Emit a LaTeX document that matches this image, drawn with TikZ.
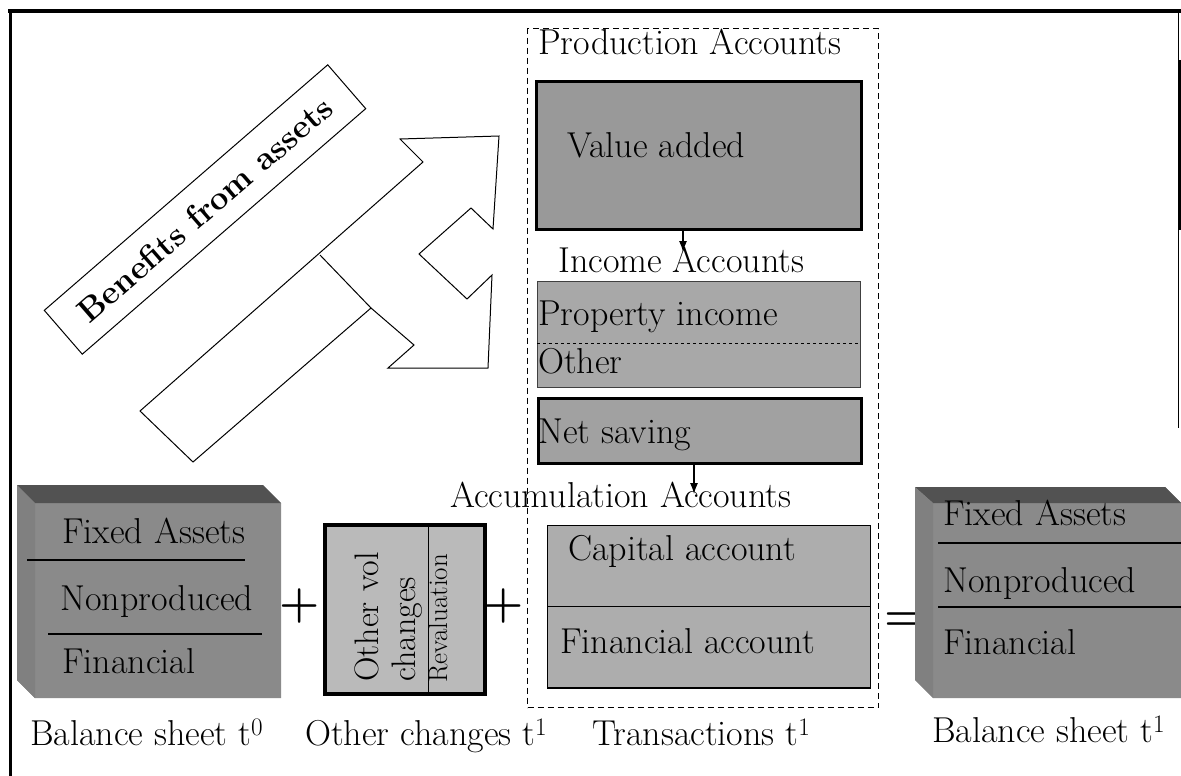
\documentclass[tikz,border=0pt]{standalone}
\usetikzlibrary{arrows.meta}
\begin{document}
\begin{tikzpicture}[x=1pt,y=-1pt,
  lbl/.style={anchor=base west, inner sep=0pt, font=\fontsize{36}{40}\selectfont},
  acbox/.style={draw=black, line width=3pt, inner sep=0pt, anchor=north west},
  thinbox/.style={draw=black, line width=1pt, inner sep=0pt, anchor=north west},
  flow/.style={-{Latex[length=11pt,width=8pt]}, line width=1.2pt},
  sign/.style={inner sep=0pt, font=\fontsize{46}{50}\selectfont\bfseries},
  divider/.style={line width=2pt},
]
\useasboundingbox (0,0) rectangle (1181,776);
\fill[white] (0,0) rectangle (1181,776);

% frame
\draw[line width=4pt] (8,11) -- (1181,11);
\draw[line width=3pt] (10,9.5) -- (10,776);
\draw[line width=1pt] (1178.5,11) -- (1178.5,428);
\draw[line width=2.5pt] (1179.5,60) -- (1179.5,230);

% banner
\node[draw, line width=1pt, fill=white, rotate=40.9, minimum width=375pt, minimum height=58pt, inner sep=0pt,
      font=\bfseries\fontsize{33}{36}\selectfont] (ben) at (205,209.5) {Benefits from assets};

% branching arrow
\draw[line width=1pt, fill=white] (140,411) -- (193,462) -- (371,308) -- (414,345) -- (388,368) -- (488,368)
  -- (492,275) -- (467,299) -- (419,254) -- (471,208) -- (493,229) -- (499,136) -- (400,139) -- (423,162) -- cycle;
\draw[line width=1pt] (320,255) -- (371,308);

% dashed transactions frame
\node (trans) [draw, dash pattern=on 6pt off 4pt, line width=1.2pt, inner sep=0pt, anchor=north west,
      minimum width=351pt, minimum height=679pt] at (527,28) {};
\node[lbl] (prodlbl) at (538,55) {Production Accounts};

% value added
\node (va) [acbox, fill=black!40, minimum width=325pt, minimum height=148pt] at (535,80) {};
\node[lbl] (valbl) at (567,157) {Value added};
\coordinate (incT) at (683,252);
\draw[flow] (va.south -| incT) -- (incT);
\node[lbl] (inclbl) at (558,272) {Income Accounts};

% income
\node (inc) [draw=black!75, line width=1pt, fill=black!34, inner sep=0pt, anchor=north west,
      minimum width=323pt, minimum height=106pt] at (537,281) {};
\draw[dashed, line width=1pt] (537,343) -- (860,343);
\node[lbl] (proplbl) at (538,325) {Property income};
\node[lbl] (othlbl) at (538,373) {Other};

% net saving
\node (ns) [acbox, fill=black!37, minimum width=323pt, minimum height=65pt] at (537,397) {};
\node[lbl] (nslbl) at (538,443) {Net saving};
\coordinate (accT) at (694,494);
\draw[flow] (ns.south -| accT) -- (accT);
\node[lbl] (acclbl) at (450,507) {Accumulation Accounts};

% capital / financial
\node (cap) [thinbox, fill=black!32, minimum width=323pt, minimum height=163pt] at (547,525) {};
\draw[line width=1pt] (547,606) -- (870,606);
\draw[line width=2.5pt] (547,688) -- (870,688);
\node[lbl] (caplbl) at (568,560) {Capital account};
\node[lbl] (finlbl) at (560,653) {Financial account};

% balance sheet t0
\fill[black!46] (17,485) -- (263,485) -- (281,503) -- (281,698) -- (35,698) -- (17,680) -- cycle;
\fill[black!68] (17,485) -- (263,485) -- (281,503) -- (35,503) -- cycle;
\fill[black!50] (17,485) -- (35,503) -- (35,698) -- (17,680) -- cycle;
\draw[divider] (27,560) -- (245,560);
\draw[divider] (48,634) -- (262,634);
\node[lbl] (fa0) at (62,543) {Fixed Assets};
\node[lbl] (np0) at (60,610) {Nonproduced};
\node[lbl] (fi0) at (62,673) {Financial};

\node[sign] (plus1) at (300,606) {+};

% other changes
\node (oc) [draw, line width=3.5pt, fill=black!27, inner sep=0pt, anchor=north west,
      minimum width=160pt, minimum height=169pt] at (323,523) {};
\draw[line width=1pt] (428,523) -- (428,692);
\node[lbl, rotate=90, font=\fontsize{34}{38}\selectfont] (ov1) at (378,682) {Other vol};
\node[lbl, rotate=90, font=\fontsize{34}{38}\selectfont] (ov2) at (415,682) {changes};
\node[lbl, rotate=90, font=\fontsize{27}{30}\selectfont] (rev) at (447,683) {Revaluation};

\node[sign] (plus2) at (504,606) {+};

\node[sign] (eq) at (905,622) {=};

% balance sheet t1
\fill[black!46] (915,487) -- (1165,487) -- (1181,503) -- (1181,698) -- (933,698) -- (915,680) -- cycle;
\fill[black!68] (915,487) -- (1165,487) -- (1181,503) -- (933,503) -- cycle;
\fill[black!50] (915,487) -- (933,503) -- (933,698) -- (915,680) -- cycle;
\draw[divider] (938,543) -- (1181,543);
\draw[divider] (938,607) -- (1181,607);
\node[lbl] (fa1) at (943,525) {Fixed Assets};
\node[lbl] (np1) at (943,592) {Nonproduced};
\node[lbl] (fi1) at (943,654) {Financial};

% bottom labels
\node[lbl] (bs0) at (30,745) {Balance sheet t\textsuperscript{0}};
\node[lbl] (oct) at (305,745) {Other changes t\textsuperscript{1}};
\node[lbl] (trt) at (592,745) {Transactions t\textsuperscript{1}};
\node[lbl] (bs1) at (932,742) {Balance sheet t\textsuperscript{1}};
\end{tikzpicture}
\end{document}
